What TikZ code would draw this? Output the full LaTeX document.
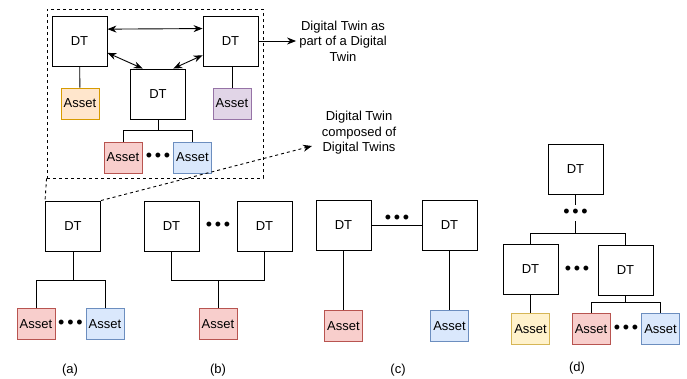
\documentclass[tikz,border=0pt]{standalone}
\usepackage{fontspec}
\setmainfont{Liberation Sans}
\usetikzlibrary{arrows.meta, positioning}

\definecolor{redfill}{HTML}{F8CECC}
\definecolor{redline}{HTML}{B85450}
\definecolor{bluefill}{HTML}{DAE8FC}
\definecolor{blueline}{HTML}{6C8EBF}
\definecolor{orangefill}{HTML}{FFE6CC}
\definecolor{orangeline}{HTML}{D79B00}
\definecolor{purplefill}{HTML}{E1D5E7}
\definecolor{purpleline}{HTML}{9673A6}
\definecolor{yellowfill}{HTML}{FFF2CC}
\definecolor{yellowline}{HTML}{D6B656}

\tikzstyle{dt} = [rectangle, draw=black, line width=0.9pt, minimum width=55pt, minimum height=50pt, inner sep=0pt]
\tikzstyle{asset} = [rectangle, line width=0.9pt, minimum width=38pt, minimum height=31pt, inner sep=0pt]
\tikzstyle{redasset} = [asset, fill=redfill, draw=redline]
\tikzstyle{blueasset} = [asset, fill=bluefill, draw=blueline]
\tikzstyle{orangeasset} = [asset, fill=orangefill, draw=orangeline]
\tikzstyle{purpleasset} = [asset, fill=purplefill, draw=purpleline]
\tikzstyle{yellowasset} = [asset, fill=yellowfill, draw=yellowline]
\tikzstyle{ellip} = [inner sep=0pt, font=\fontsize{18}{18}\selectfont]
\tikzstyle{caption} = [align=center, inner sep=0pt, font=\fontsize{13}{15.5}\selectfont]
\tikzstyle{wire} = [line width=0.9pt]
\tikzstyle{arrow} = [line width=0.9pt, -{Stealth[length=9pt, width=7pt]}]
\tikzstyle{twoway} = [line width=0.9pt, {Stealth[length=9pt, width=7pt]}-{Stealth[length=9pt, width=7pt]}]

\newcommand{\tridots}{\textbullet\hspace{2.8pt}\textbullet\hspace{2.8pt}\textbullet}

\begin{document}
\begin{tikzpicture}[x=1pt, y=-1pt, font=\fontsize{13}{15}\selectfont]
	\useasboundingbox (0,0) rectangle (687,378);

	% Zoomed view: twins talking to each other
	\node (inset) [rectangle, draw, dashed, line width=0.9pt, minimum width=216pt, minimum height=169pt, inner sep=0pt] at (155,93.5) {};
	\node (dtA) [dt] at (79.5,41) {DT};
	\node (dtB) [dt] at (230.5,41) {DT};
	\node (dtC) [dt] at (158,94) {DT};
	\node (assetA) [orangeasset] at (80,103.5) {Asset};
	\node (assetB) [purpleasset] at (232,103.5) {Asset};
	\node (assetC1) [redasset] at (123,157.5) {Asset};
	\node (assetC2) [blueasset] at (192.5,157.5) {Asset};
	\node (dotsC) [ellip] at (158,157) {\tridots};

	\draw [twoway] (dtA.23.6) -- (dtB.156.4);
	\draw [twoway] (dtA.-23.6) -- (dtC.121);
	\draw [twoway] (dtB.-153) -- (dtC.59);
	\draw [wire] (dtA) -- (assetA);
	\draw [wire] (dtB.south -| assetB) -- (assetB);
	\draw [wire] (dtC.south) -- ++(0,11) coordinate (cbus);
	\draw [wire] (assetC1.north) |- (cbus) -| (assetC2.north);

	% Captions on the right of the zoomed view
	\node (capA) [caption] at (343,41) {Digital Twin as\\part of a Digital\\Twin};
	\node (capB) [caption] at (359,133) {Digital Twin\\composed of\\Digital Twins};
	\coordinate (capBin) at (312,146);
	\draw [arrow, shorten >=3pt] (dtB.east) -- (capA.west);

	% (a) one twin, many assets
	\node (aDT) [dt] at (73,226) {DT};
	\node (aRed) [redasset] at (36,324) {Asset};
	\node (aBlue) [blueasset] at (105,324) {Asset};
	\node (aDots) [ellip] at (70.5,324) {\tridots};
	\draw [wire] (aDT.south) -- ++(0,29) coordinate (abus);
	\draw [wire] (aRed.north) |- (abus) -| (aBlue.north);
	\draw [dashed, line width=0.9pt] (inset.south west) -- (aDT.north west);
	\draw [arrow, dashed] (aDT.north east) -- (capBin);

	% (b) many twins, one asset
	\node (bL) [dt] at (171.5,226) {DT};
	\node (bR) [dt] at (264.5,226) {DT};
	\node (bDots) [ellip] at (218,226) {\tridots};
	\node (bAsset) [redasset] at (218,324) {Asset};
	\draw [wire] (bL.south) -- ++(0,29) -| (bR.south);
	\draw [wire] (bAsset.north) -- ++(0,-28);

	% (c) peer twins
	\node (cL) [dt] at (343.5,225) {DT};
	\node (cR) [dt] at (449.5,225) {DT};
	\node (cDots) [ellip] at (397,219) {\tridots};
	\node (cRed) [redasset] at (343.5,326) {Asset};
	\node (cBlue) [blueasset] at (449.5,326) {Asset};
	\draw [wire] (cL) -- (cR);
	\draw [wire] (cL) -- (cRed);
	\draw [wire] (cR) -- (cBlue);

	% (d) hierarchy of twins
	\node (dTop) [dt] at (575.5,169.5) {DT};
	\node (dVdots) [ellip, minimum height=16pt] at (575.5,213) {\tridots};
	\node (dL) [dt] at (530.5,269.5) {DT};
	\node (dR) [dt] at (625.5,270.5) {DT};
	\node (dDots) [ellip] at (577,270) {\tridots};
	\node (dYel) [yellowasset] at (530.5,329) {Asset};
	\node (dRed) [redasset] at (591,329) {Asset};
	\node (dBlue) [blueasset] at (660.5,329) {Asset};
	\node (dDots2) [ellip] at (626,329) {\tridots};
	\draw [wire] (dTop.south) -- (dVdots.north);
	\draw [wire] (dVdots.south) -- ++(0,12) coordinate (dbus);
	\draw [wire] (dL.north) |- (dbus) -| (dR.north);
	\draw [wire] (dL) -- (dYel);
	\draw [wire] (dR.south) -- ++(0,6) coordinate (drbus);
	\draw [wire] (dRed.north) |- (drbus) -| (dBlue.north);

	% Sub-figure labels
	\node (labA) at (70,370) {(a)};
	\node (labB) at (218,370) {(b)};
	\node (labC) at (398,370) {(c)};
	\node (labD) at (577,368) {(d)};

\end{tikzpicture}
\end{document}
